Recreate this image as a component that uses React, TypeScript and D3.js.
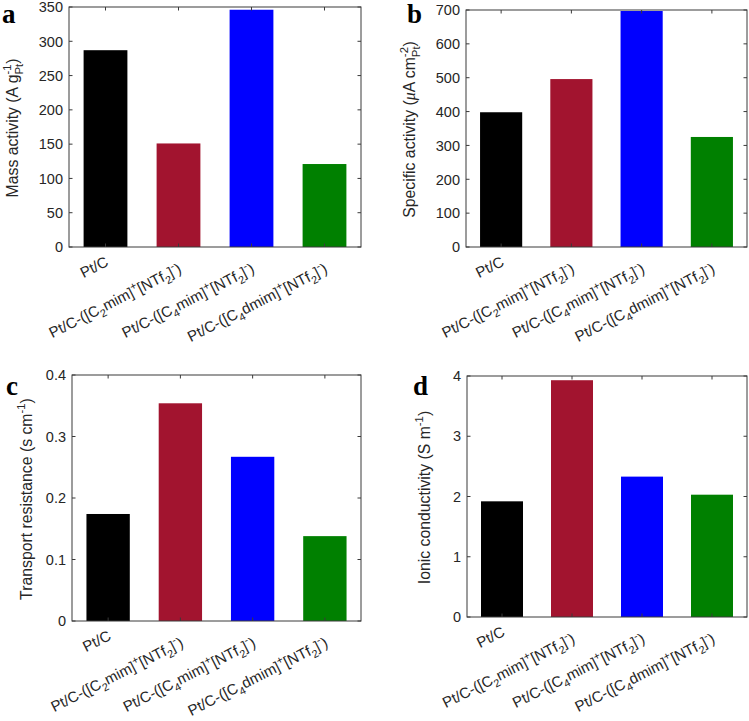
import * as d3 from 'd3';

type Seg = { t?: string; s?: 'sub' | 'sup'; it?: boolean; sup?: string; sub?: string };

const FONT = '"Liberation Sans", Arial, Helvetica, sans-serif';

// category labels (rich text: sub/superscripts)
const categories: Seg[][] = [
  [{ t: 'Pt/C' }],
  [{ t: 'Pt/C-([C' }, { t: '2', s: 'sub' }, { t: 'mim]' }, { t: '+', s: 'sup' }, { t: '[NTf' }, { t: '2', s: 'sub' }, { t: ']' }, { t: '-', s: 'sup' }, { t: ')' }],
  [{ t: 'Pt/C-([C' }, { t: '4', s: 'sub' }, { t: 'mim]' }, { t: '+', s: 'sup' }, { t: '[NTf' }, { t: '2', s: 'sub' }, { t: ']' }, { t: '-', s: 'sup' }, { t: ')' }],
  [{ t: 'Pt/C-([C' }, { t: '4', s: 'sub' }, { t: 'dmim]' }, { t: '+', s: 'sup' }, { t: '[NTf' }, { t: '2', s: 'sub' }, { t: ']' }, { t: '-', s: 'sup' }, { t: ')' }],
];
const barColors = ['#000000', '#A2142F', '#0000FF', '#008000'];

const massActivity = [287, 151, 346, 121];
const specificActivity = [398, 496, 697, 325];
const transportResistance = [0.174, 0.354, 0.267, 0.138];
const ionicConductivity = [1.92, 3.93, 2.33, 2.03];

const massTicks = [0, 50, 100, 150, 200, 250, 300, 350];
const specificTicks = [0, 100, 200, 300, 400, 500, 600, 700];
const transportTicks = [0, 0.1, 0.2, 0.3, 0.4];
const ionicTicks = [0, 1, 2, 3, 4];

const massLabel: Seg[] = [{ t: 'Mass activity (A g' }, { sup: '-1', sub: 'Pt' }, { t: ')' }];
const specificLabel: Seg[] = [{ t: 'Specific activity (' }, { t: 'μ', it: true }, { t: 'A cm' }, { sup: '-2', sub: 'Pt' }, { t: ')' }];
const transportLabel: Seg[] = [{ t: 'Transport resistance (s cm' }, { t: '-1', s: 'sup' }, { t: ')' }];
const ionicLabel: Seg[] = [{ t: 'Ionic conductivity (S m' }, { t: '-1', s: 'sup' }, { t: ')' }];

let ctx: CanvasRenderingContext2D | null = null;
function textWidth(s: string, size: number) {
  if (!ctx) ctx = document.createElement('canvas').getContext('2d');
  if (!ctx) return s.length * size * 0.55;
  ctx.font = `${size}px "Liberation Sans"`;
  return ctx.measureText(s).width;
}

function rich(segs: Seg[], size: number) {
  const small = size * 0.72;
  const supY = -size * 0.42;
  const subY = size * 0.3;
  let cur = 0;
  let carry = 0;
  const out: JSX.Element[] = [];
  segs.forEach((seg, i) => {
    if (seg.sup !== undefined && seg.sub !== undefined) {
      out.push(<tspan key={i + 'a'} dx={carry} dy={supY - cur} fontSize={small}>{seg.sup}</tspan>);
      const w1 = textWidth(seg.sup, small);
      out.push(<tspan key={i + 'b'} dx={-w1} dy={subY - supY} fontSize={small}>{seg.sub}</tspan>);
      const w2 = textWidth(seg.sub, small);
      carry = Math.max(0, w1 - w2);
      cur = subY;
      return;
    }
    const target = seg.s === 'sup' ? supY : seg.s === 'sub' ? subY : 0;
    out.push(
      <tspan key={i} dx={carry} dy={target - cur} fontSize={seg.s ? small : size} fontStyle={seg.it ? 'italic' : undefined}
        fontFamily={seg.it ? '"Liberation Serif", serif' : undefined}>
        {seg.t}
      </tspan>
    );
    carry = 0;
    cur = target;
  });
  return out;
}

interface PanelProps {
  values: number[];
  ticks: number[];
  fmt: (d: number) => string;
  label: Seg[];
  letter: string;
  left: number;
  right: number;
  top: number;
  bottom: number;
  labelX: number;
  letterX: number;
  letterY: number;
}

function Panel({ values, ticks, fmt, label, letter, left, right, top, bottom, labelX, letterX, letterY }: PanelProps) {
  const x = d3.scaleBand<number>().domain(d3.range(values.length)).range([left, right]).paddingInner(0.4).paddingOuter(0.2);
  const y = d3.scaleLinear().domain([0, ticks[ticks.length - 1]]).range([bottom, top]);
  const tl = 3.5;
  const axisColor = '#3a3a3a';
  return (
    <g>
      {values.map((v, i) => (
        <rect key={i} x={x(i)} y={y(v)} width={x.bandwidth()} height={y(0) - y(v)} fill={barColors[i]} />
      ))}
      <rect x={left} y={top} width={right - left} height={bottom - top} fill="none" stroke={axisColor} strokeWidth={1} />
      {ticks.map((t) => (
        <g key={t}>
          <line x1={left} x2={left + tl} y1={y(t)} y2={y(t)} stroke={axisColor} />
          <line x1={right} x2={right - tl} y1={y(t)} y2={y(t)} stroke={axisColor} />
          <text x={left - 6} y={y(t)} dy="0.36em" textAnchor="end" fontSize={14.5} fill="#262626">
            {fmt(t)}
          </text>
        </g>
      ))}
      {values.map((_, i) => {
        const cx = (x(i) ?? 0) + x.bandwidth() / 2;
        const long = categories[i].length > 1;
        return (
          <g key={i}>
            <line x1={cx} x2={cx} y1={bottom} y2={bottom - tl} stroke={axisColor} />
            <line x1={cx} x2={cx} y1={top} y2={top + tl} stroke={axisColor} />
            <text transform={`translate(${cx + 4},${bottom + (long ? 25 : 18)}) rotate(-27)`} textAnchor="end" fontSize={15} fill="#262626">
              {rich(categories[i], 15)}
            </text>
          </g>
        );
      })}
      <text transform={`translate(${labelX},${(top + bottom) / 2 + 1}) rotate(-90)`} textAnchor="middle" fontSize={15.8} fill="#262626">
        {rich(label, 15.8)}
      </text>
      <text x={letterX} y={letterY} fontFamily='"Liberation Serif", "Times New Roman", serif' fontWeight="bold" fontSize={27} fill="#000">
        {letter}
      </text>
    </g>
  );
}

const intFmt = d3.format('d');
const decFmt = (d: number) => (d === 0 ? '0' : d3.format('.1f')(d));

export default function App() {
  return (
    <svg width={749} height={721} style={{ position: 'absolute', left: 0, top: 0, background: '#fff' }} fontFamily={FONT}>
      <Panel values={massActivity} ticks={massTicks} fmt={intFmt} label={massLabel} letter="a"
        left={69} right={361} top={7} bottom={247} labelX={18} letterX={2} letterY={23} />
      <Panel values={specificActivity} ticks={specificTicks} fmt={intFmt} label={specificLabel} letter="b"
        left={466} right={747} top={10} bottom={247} labelX={415} letterX={407} letterY={23} />
      <Panel values={transportResistance} ticks={transportTicks} fmt={decFmt} label={transportLabel} letter="c"
        left={72} right={361} top={375} bottom={621} labelX={32} letterX={6} letterY={395} />
      <Panel values={ionicConductivity} ticks={ionicTicks} fmt={intFmt} label={ionicLabel} letter="d"
        left={467} right={747} top={376} bottom={617} labelX={430} letterX={413} letterY={395} />
    </svg>
  );
}
